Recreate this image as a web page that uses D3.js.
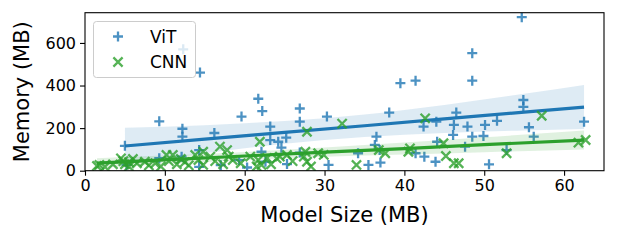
<!DOCTYPE html>
<html><head><meta charset="utf-8">
<script src="https://cdn.jsdelivr.net/npm/d3@7"></script>
<style>body{margin:0;background:#fff;} svg{display:block;font-family:"DejaVu Sans",sans-serif;}</style>
</head><body>
<svg id="c" width="617" height="240"></svg>
<script>
const xTicks = [0,10,20,30,40,50,60];
const yTicks = [0,200,400,600];
const seriesNames = ["ViT","CNN"];
const vitPoints = [[5.0,117],[5.2,27],[9.3,232],[9.3,59],[12.2,197],[12.2,160],[12.1,66],[12.3,570],[14.4,461],[14.3,97],[14.3,18],
 [16.2,177],[17.0,26],[19.6,254],[19.3,50],[20.3,15],[21.7,338],[22.2,280],[22.1,89],[22.6,42],[23.2,207],[23.2,144],[24.2,136],
 [25.2,155],[24.6,108],[25.3,31],[26.9,292],[26.9,230],[26.9,85],[30.3,254],[30.5,27],[34.2,82],[35.5,27],[36.5,160],[36.3,121],
 [36.9,97],[37.0,38],[38.1,273],[39.5,411],[41.4,423],[41.4,82],[42.4,207],[42.5,66],[43.9,42],[44.0,230],[44.1,136],[46.5,273],
 [46.2,215],[46.1,168],[47.9,207],[47.6,113],[48.5,552],[48.5,423],[48.5,160],[49.9,163],[50.1,215],[50.6,30],[51.6,234],[52.8,97],
 [54.7,721],[54.9,332],[54.9,300],[55.6,204],[56.2,160],[62.5,230]];
const cnnPoints = [[1.5,22],[1.8,27],[2.5,18],[3.5,30],[4.5,58],[4.8,45],[5.0,30],[5.5,40],[5.5,20],[6.0,55],[6.5,35],[7.5,42],
 [8.0,25],[8.8,35],[9.5,20],[10.2,74],[10.5,45],[11.0,74],[11.5,30],[12.0,55],[12.5,40],[13.0,25],[13.8,74],[14.2,50],[14.8,89],
 [14.8,27],[15.7,66],[16.3,45],[16.9,113],[17.3,30],[17.8,97],[18.0,66],[18.5,50],[19.5,35],[20.7,66],[21.5,20],[21.7,50],[21.9,136],
 [22.1,27],[22.8,60],[23.3,30],[24.0,58],[24.4,66],[25.3,74],[26.0,45],[27.4,66],[27.6,89],[27.8,183],[27.8,42],[28.3,20],[29.2,82],
 [29.9,74],[32.2,221],[34.0,27],[36.8,97],[37.6,82],[40.5,89],[40.7,105],[42.6,246],[44.9,129],[45.2,69],[46.2,35],[46.8,35],
 [52.8,82],[57.2,258],[61.8,132],[62.7,144]];
// regression fit: [x, lower, mid, upper]
const vitFit = [[5,30,116,202],[15,82,148,214],[25,127,180,233],[35,158,211,264],[45,177,243,309],[55,189,275,361],[62.5,196,299,402]];
const cnnFit = [[1.5,13,36,59],[10,31,51,71],[20,50,69,88],[30,65,87,109],[40,76,104,132],[50,87,122,157],[62.5,99,144,189]];

const svg = d3.select("#c");
const L=85,R=604,T=12.7,B=170.7;
const x = d3.scaleLinear().domain([0,65]).range([L,R]);
const y = d3.scaleLinear().domain([0,742]).range([B,T]);
const blue="#1f77b4", green="#2ca02c";

const plot = svg.append("g");
plot.append("defs").append("clipPath").attr("id","clip").append("rect").attr("x",L).attr("y",T).attr("width",R-L).attr("height",B-T);
const g = plot.append("g").attr("clip-path","url(#clip)");

function plus(sel,s){ return sel.append("path").attr("d",`M${-s},0H${s}M0,${-s}V${s}`); }
function cross(sel,s){ return sel.append("path").attr("d",`M${-s},${-s}L${s},${s}M${-s},${s}L${s},${-s}`); }

function drawSeries(pts, fit, color, marker){
  const sc = g.append("g").attr("stroke",color).attr("stroke-opacity",0.8).attr("stroke-width",2.3).attr("fill","none");
  pts.forEach(p=>{ const m = sc.append("g").attr("transform",`translate(${x(p[0])},${y(p[1])})`); marker(m, marker===plus?5:4.6); });
  const area = d3.area().x(d=>x(d[0])).y0(d=>y(d[1])).y1(d=>y(d[3])).curve(d3.curveMonotoneX);
  g.append("path").datum(fit).attr("d",area).attr("fill",color).attr("fill-opacity",0.15);
  const line = d3.line().x(d=>x(d[0])).y(d=>y(d[2]));
  g.append("path").datum(fit).attr("d",line).attr("fill","none").attr("stroke",color).attr("stroke-width",3.2);
}
drawSeries(vitPoints, vitFit, blue, plus);
drawSeries(cnnPoints, cnnFit, green, cross);

// axes
const xa = svg.append("g").attr("transform",`translate(0,${B})`).call(d3.axisBottom(x).tickValues(xTicks).tickSize(5).tickPadding(4));
const ya = svg.append("g").attr("transform",`translate(${L},0)`).call(d3.axisLeft(y).tickValues(yTicks).tickSize(5).tickPadding(4));
[xa,ya].forEach(a=>{ a.select(".domain").remove(); a.selectAll("text").attr("font-size",16).attr("fill","#000").attr("font-family","DejaVu Sans"); a.selectAll("line").attr("stroke","#000").attr("stroke-width",1.1); });
svg.append("rect").attr("x",L).attr("y",T).attr("width",R-L).attr("height",B-T).attr("fill","none").attr("stroke","#000").attr("stroke-width",1.1);

svg.append("text").attr("x",(L+R)/2).attr("y",222).attr("text-anchor","middle").attr("font-size",21).text("Model Size (MB)");
svg.append("text").attr("transform",`translate(28.5,${(T+B)/2}) rotate(-90)`).attr("text-anchor","middle").attr("font-size",21).text("Memory (MB)");

// legend
const lg = svg.append("g");
lg.append("rect").attr("x",93.5).attr("y",21.5).attr("width",102).attr("height",56).attr("rx",3).attr("fill","#fff").attr("fill-opacity",0.8).attr("stroke","#ccc").attr("stroke-width",1);
const items=[{name:seriesNames[0],color:blue,m:plus,yy:36.5},{name:seriesNames[1],color:green,m:cross,yy:62}];
items.forEach(it=>{
  const m = lg.append("g").attr("transform",`translate(118,${it.yy})`).attr("stroke",it.color).attr("stroke-opacity",0.8).attr("stroke-width",2.3).attr("fill","none");
  it.m(m, it.m===plus?5:4.6);
  lg.append("text").attr("x",150).attr("y",it.yy).attr("dy","0.36em").attr("font-size",17).text(it.name);
});
</script>
</body></html>
